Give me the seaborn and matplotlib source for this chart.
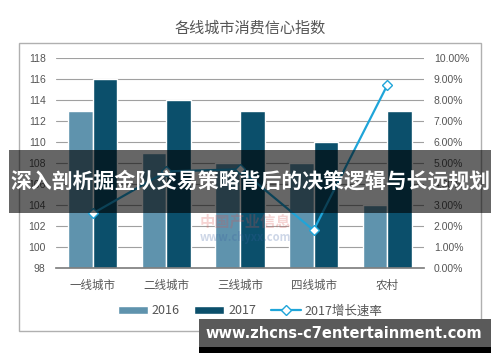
import matplotlib
matplotlib.use("Agg")
import matplotlib.pyplot as plt
from matplotlib.lines import Line2D
from matplotlib.patches import Patch, Rectangle
import pandas as pd
import seaborn as sns

# === Datos ===
cities = ["一线城市", "二线城市", "三线城市", "四线城市", "农村"]
index_2016 = [113, 109, 108, 108, 104]
index_2017 = [116, 114, 113, 110, 113]
growth_2017 = [2.6, 4.6, 4.7, 1.8, 8.7]  # %

left_ticks = list(range(98, 119, 2))
right_ticks = list(range(0, 11))

c16, c17, cline = "#5f93ad", "#0b4f6b", "#1fa5d9"
grey = "#555555"

sns.set_theme(style="white")
plt.rcParams["font.family"] = ["Noto Sans CJK SC", "DejaVu Sans"]

df = pd.DataFrame({
    "城市": cities * 2,
    "年份": ["2016"] * len(cities) + ["2017"] * len(cities),
    "指数": index_2016 + index_2017,
})

fig = plt.figure(figsize=(5, 3.62), dpi=100)
fig.patch.set_facecolor("white")
ax = fig.add_axes([56 / 500, 1 - 268 / 362, 368 / 500, 210 / 362])

# === Barras ===
sns.barplot(data=df, x="城市", y="指数", hue="年份", palette=[c16, c17],
            width=0.67, saturation=1, legend=False, ax=ax)
ax.set_ylim(98, 118)
ax.set_yticks(left_ticks)
ax.set_axisbelow(True)
ax.yaxis.grid(True, color="#a0a0a0", lw=0.8)
ax.set_xlabel("")
ax.set_ylabel("")
for s in ["top", "right", "left"]:
    ax.spines[s].set_visible(False)
ax.spines["bottom"].set_color("#808080")
ax.tick_params(axis="y", length=0, pad=7.5, labelsize=7.5, labelcolor=grey)
ax.tick_params(axis="x", length=0, pad=8, labelsize=8.3, labelcolor=grey)
for t in ax.get_yticklabels():
    t.set_fontfamily("Liberation Sans")

# === Línea de crecimiento ===
ax2 = ax.twinx()
sns.pointplot(x=cities, y=growth_2017, ax=ax2, color=cline, markers="D",
              linewidth=1.6, markersize=5, markerfacecolor="white",
              markeredgecolor=cline, markeredgewidth=1)
ax2.set_ylim(0, 10)
ax2.set_yticks(right_ticks)
ax2.set_yticklabels([f"{v:.2f}%" for v in right_ticks])
ax2.set_ylabel("")
ax2.set_xlabel("")
for s in ax2.spines.values():
    s.set_visible(False)
ax2.tick_params(axis="y", length=0, pad=7, labelsize=7.5, labelcolor=grey)
for t in ax2.get_yticklabels():
    t.set_fontfamily("Liberation Sans")

# === Leyenda ===
handles = [
    Patch(facecolor=c16),
    Patch(facecolor=c17),
    Line2D([], [], color=cline, lw=1.6, marker="D", markersize=5,
           markerfacecolor="white", markeredgecolor=cline, markeredgewidth=1),
]
fig.legend(handles, ["2016", "2017", "2017增长速率"], loc="center",
           bbox_to_anchor=(0.5, 1 - 311 / 362), ncol=3, frameon=False,
           fontsize=9, handlelength=2.4, handleheight=0.6,
           columnspacing=1.2, handletextpad=0.3, labelcolor=grey)

# === Título y marco ===
fig.text(250 / 500, 1 - 28 / 362, "各线城市消费信心指数", ha="center",
         va="center", fontsize=10.9, color=grey)
fig.patches.append(Rectangle((19 / 500, 1 - 331 / 362), 462 / 500, 288 / 362,
                             transform=fig.transFigure, fill=False,
                             ec="#b0b0b0", lw=1))

# marca de agua tenue
fig.text(245 / 500, 1 - 222 / 362, "中国产业信息", ha="center", va="center",
         fontsize=11, color="#d9534f", alpha=0.25, weight="bold")
fig.text(245 / 500, 1 - 238 / 362, "www.chyxx.com", ha="center", va="center",
         fontsize=8, color="#3a5fa0", alpha=0.25, weight="bold")

# === Banner ===
fig.patches.append(Rectangle((9 / 500, 1 - 213 / 362), 482 / 500, 63 / 362,
                             transform=fig.transFigure, fc="black",
                             alpha=0.6, ec="none", zorder=10))
fig.text(0.5, 1 - 181 / 362, "深入剖析掘金队交易策略背后的决策逻辑与长远规划",
         ha="center", va="center", fontsize=15, color="white",
         weight="bold", zorder=11)

# === Marca inferior ===
fig.patches.append(Rectangle((199 / 500, 1 - 347 / 362), 292 / 500, 28 / 362,
                             transform=fig.transFigure, fc="#5a5a5a",
                             ec="none", zorder=10))
fig.patches.append(Rectangle((199 / 500, 1 - 353 / 362), 292 / 500, 6 / 362,
                             transform=fig.transFigure, fc="black",
                             ec="none", zorder=10))
fig.text(344 / 500, 1 - 334 / 362, "www.zhcns-c7entertainment.com",
         ha="center", va="center", fontsize=10.5, color="white",
         weight="bold", family="DejaVu Sans", zorder=11)

fig.savefig("out.png", dpi=100)
